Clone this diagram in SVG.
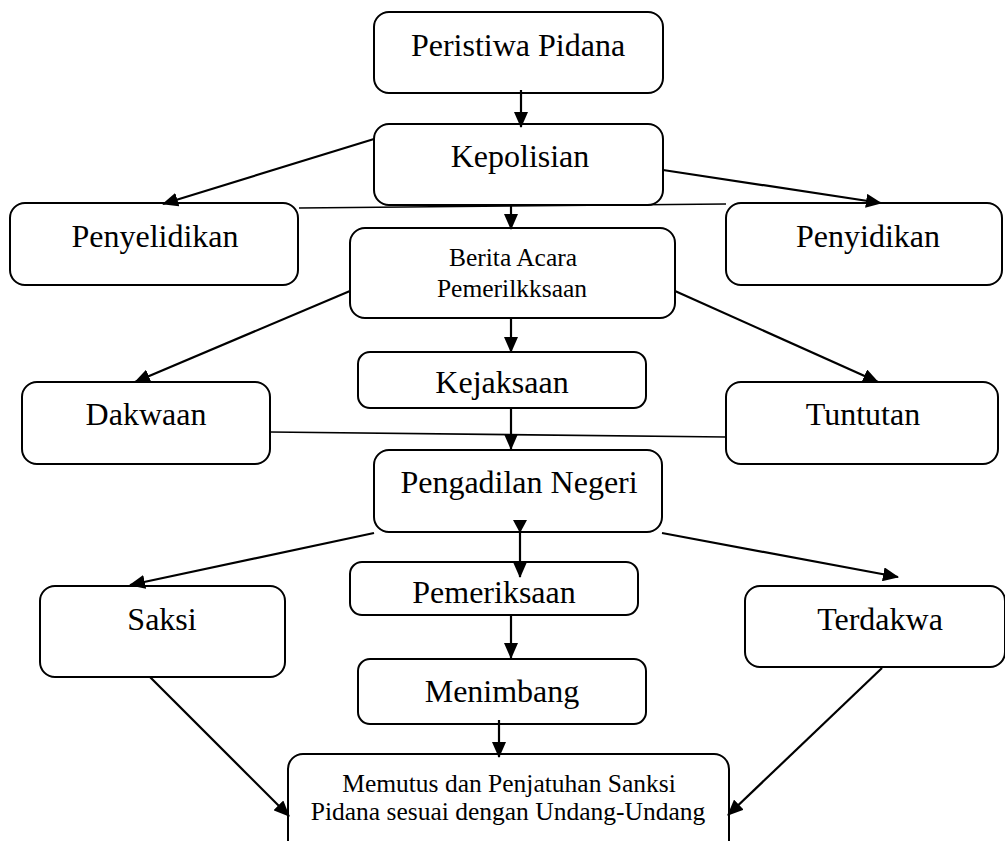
<svg xmlns="http://www.w3.org/2000/svg" width="1005" height="841" viewBox="0 0 1005 841">
<defs>
<marker id="ah" markerUnits="userSpaceOnUse" markerWidth="16" markerHeight="14" refX="15" refY="7" orient="auto"><path d="M0,0 L16,7 L0,14 Z" fill="#000"/></marker>
<style>
.box{fill:#fff;stroke:#000;stroke-width:2}
.t{font-family:"Liberation Serif","Times New Roman",serif;fill:#000;text-anchor:middle}
.big{font-size:32px}
.sm{font-size:25.5px}
.c{stroke:#000;stroke-width:2.2;fill:none}
.a{marker-end:url(#ah)}
.thin{stroke:#000;stroke-width:1.6;fill:none}
</style>
</defs>
<rect width="1005" height="841" fill="#fff"/>
<g id="peristiwa"><rect class="box" x="374" y="12" width="289" height="81" rx="15"/><text class="t big" x="518" y="56">Peristiwa Pidana</text></g>
<g id="kepolisian"><rect class="box" x="374" y="124" width="289" height="81" rx="15"/><text class="t big" x="520" y="167">Kepolisian</text></g>
<g id="penyelidikan"><rect class="box" x="10" y="203" width="288" height="82" rx="15"/><text class="t big" x="155" y="247">Penyelidikan</text></g>
<g id="penyidikan"><rect class="box" x="726" y="203" width="276" height="82" rx="15"/><text class="t big" x="868" y="247">Penyidikan</text></g>
<g id="berita"><rect class="box" x="350" y="228" width="325" height="90" rx="15"/><text class="t sm" x="513" y="266">Berita Acara</text><text class="t sm" x="512" y="297">Pemerilkksaan</text></g>
<g id="kejaksaan"><rect class="box" x="358" y="352" width="288" height="56" rx="12"/><text class="t big" x="502" y="393">Kejaksaan</text></g>
<g id="dakwaan"><rect class="box" x="22" y="382" width="248" height="82" rx="15"/><text class="t big" x="146" y="425">Dakwaan</text></g>
<g id="tuntutan"><rect class="box" x="726" y="382" width="272" height="82" rx="15"/><text class="t big" x="863" y="425">Tuntutan</text></g>
<g id="pengadilan"><rect class="box" x="374" y="450" width="288" height="82" rx="15"/><text class="t big" x="519" y="493">Pengadilan Negeri</text></g>
<g id="pemeriksaan"><rect class="box" x="350" y="562" width="288" height="53" rx="12"/><text class="t big" x="494" y="603">Pemeriksaan</text></g>
<g id="saksi"><rect class="box" x="40" y="586" width="245" height="91" rx="15"/><text class="t big" x="162" y="630">Saksi</text></g>
<g id="terdakwa"><rect class="box" x="745" y="586" width="260" height="81" rx="15"/><text class="t big" x="880" y="630">Terdakwa</text></g>
<g id="menimbang"><rect class="box" x="358" y="659" width="288" height="65" rx="12"/><text class="t big" x="502" y="702">Menimbang</text></g>
<g id="memutus"><rect class="box" x="288" y="754" width="441" height="110" rx="15"/><text class="t sm" x="509" y="792">Memutus dan Penjatuhan Sanksi</text><text class="t sm" x="508" y="820">Pidana sesuai dengan Undang-Undang</text></g>
<g id="connectors">
<line class="c a" x1="521" y1="90" x2="521" y2="127"/>
<line class="c a" x1="374" y1="139" x2="163" y2="204"/>
<line class="c a" x1="663" y1="170" x2="881" y2="203"/>
<line class="thin" x1="299" y1="208" x2="726" y2="204"/>
<line class="c a" x1="511" y1="205" x2="511" y2="229"/>
<line class="c a" x1="350" y1="291" x2="135" y2="382"/>
<line class="c a" x1="675" y1="291" x2="878" y2="382"/>
<line class="c a" x1="511" y1="318" x2="511" y2="352"/>
<line class="thin" x1="270" y1="432" x2="726" y2="437"/>
<line class="c a" x1="511" y1="408" x2="511" y2="449"/>
<line class="c a" x1="374" y1="533" x2="130" y2="585"/>
<line class="c a" x1="662" y1="533" x2="898" y2="577"/>
<line class="c a" x1="520" y1="520" x2="520" y2="577"/>
<path d="M513,520 L527,520 L520,533 Z" fill="#000"/>
<line class="c a" x1="511" y1="615" x2="511" y2="658"/>
<line class="c a" x1="499" y1="720" x2="499" y2="757"/>
<line class="c a" x1="150" y1="677" x2="289" y2="816"/>
<line class="c a" x1="882" y1="668" x2="728" y2="815"/>
</g>
</svg>
